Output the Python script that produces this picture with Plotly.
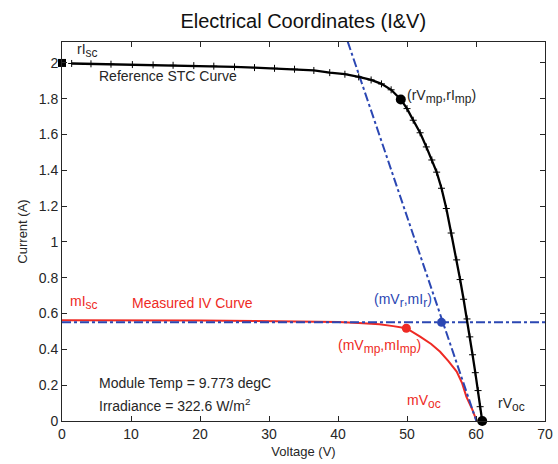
import plotly.graph_objects as go

# Reference (STC) I-V curve
ref_v = [1.4, 4.2, 7.1, 10.2, 13.2, 16.1, 19.1, 22.0, 25.0, 27.9, 30.8, 33.7, 36.5,
         38.8, 41.0, 43.0, 44.8, 46.3, 47.7, 49.1, 50.0, 50.9, 51.9, 52.8, 53.6, 54.3,
         55.0, 55.7, 56.4, 57.2, 57.7, 58.2, 58.7, 59.1, 59.5, 59.9, 60.3, 60.6, 60.9]
ref_i = [1.997, 1.995, 1.993, 1.991, 1.989, 1.987, 1.985, 1.982, 1.978, 1.974, 1.970, 1.965, 1.958,
         1.946, 1.937, 1.922, 1.905, 1.883, 1.850, 1.796, 1.745, 1.680, 1.610, 1.531, 1.458, 1.390,
         1.300, 1.187, 1.050, 0.900, 0.790, 0.680, 0.570, 0.470, 0.370, 0.270, 0.170, 0.080, 0.0]

# Measured I-V curve
meas_v = [0, 10, 20, 28, 35, 40, 43, 46, 48, 49.9, 51.9, 53.5, 54.8, 56.0, 57.2, 58.0, 58.6, 59.4, 60.1]
meas_i = [0.563, 0.563, 0.562, 0.558, 0.556, 0.553, 0.548, 0.540, 0.530, 0.518, 0.471, 0.430,
          0.387, 0.335, 0.276, 0.210, 0.136, 0.070, 0.0]

# Key points
r_isc = 2.0
r_vmp, r_imp = 49.1, 1.796
r_voc = 60.9
m_vmp, m_imp = 49.9, 0.518
m_vr, m_ir = 55.0, 0.551
m_voc = 60.05

# Translated reference line (through mVoc) and measured Ir level
slope_line_v = [41.4, m_voc]
slope_line_i = [2.12, 0.0]
ir_line_v = [0, 70]
ir_line_i = [m_ir, m_ir]

x_ticks = [0, 10, 20, 30, 40, 50, 60, 70]
y_ticks = [0, 0.2, 0.4, 0.6, 0.8, 1.0, 1.2, 1.4, 1.6, 1.8, 2.0]
y_tick_text = ["0", "0.2", "0.4", "0.6", "0.8", "1", "1.2", "1.4", "1.6", "1.8", "2"]

RED = "#ee2a24"
BLUE = "#2b47b3"
TXT = "#262626"
FONT = "Liberation Sans, Arial, sans-serif"

fig = go.Figure()

fig.add_trace(go.Scatter(x=meas_v, y=meas_i, mode="lines",
                         line=dict(color=RED, width=2), hoverinfo="skip"))
fig.add_trace(go.Scatter(x=ir_line_v, y=ir_line_i, mode="lines",
                         line=dict(color=BLUE, width=2, dash="dashdot"), hoverinfo="skip"))
fig.add_trace(go.Scatter(x=slope_line_v, y=slope_line_i, mode="lines",
                         line=dict(color=BLUE, width=2, dash="dashdot"), hoverinfo="skip"))
fig.add_trace(go.Scatter(x=ref_v, y=ref_i, mode="lines+markers",
                         line=dict(color="black", width=2.3),
                         marker=dict(symbol="cross-thin", size=5, color="black",
                                     line=dict(color="black", width=1)),
                         hoverinfo="skip"))

# Key point markers
fig.add_trace(go.Scatter(x=[0], y=[r_isc], mode="markers", cliponaxis=False,
                         marker=dict(symbol="square", size=8, color="black")))
fig.add_trace(go.Scatter(x=[r_vmp, r_voc], y=[r_imp, 0], mode="markers", cliponaxis=False,
                         marker=dict(symbol="circle", size=10, color="black")))
fig.add_trace(go.Scatter(x=[m_vmp], y=[m_imp], mode="markers",
                         marker=dict(symbol="circle", size=9, color=RED)))
fig.add_trace(go.Scatter(x=[m_vr], y=[m_ir], mode="markers",
                         marker=dict(symbol="circle", size=9, color=BLUE)))


def sub(s):
    return "<sub><span style='font-size:12px'>" + s + "</span></sub>"


def label(x, y, text, color=TXT, size=14):
    fig.add_annotation(x=x, y=y, xref="x", yref="y", text=text, showarrow=False,
                       xanchor="left", yanchor="middle",
                       font=dict(family=FONT, size=size, color=color))


label(1.95, 2.072, "rI" + sub("sc"))
label(5.0, 1.927, "Reference STC Curve")
label(49.7, 1.815, "(rV" + sub("mp") + ",rI" + sub("mp") + ")")
label(0.8, 0.662, "mI" + sub("sc"), RED)
label(9.9, 0.659, "Measured IV Curve", RED)
label(44.9, 0.672, "(mV" + sub("r") + ",mI" + sub("r") + ")", BLUE)
label(39.7, 0.415, "(mV" + sub("mp") + ",mI" + sub("mp") + ")", RED)
label(49.7, 0.108, "mV" + sub("oc"), RED)
label(62.9, 0.091, "rV" + sub("oc"))
label(5.0, 0.212, "Module Temp = 9.773 degC")
label(5.0, 0.089, "Irradiance = 322.6 W/m<sup>2</sup>")

axis_common = dict(showline=True, linecolor=TXT, linewidth=1, mirror="ticks",
                   ticks="inside", ticklen=5, tickcolor=TXT, showgrid=False,
                   zeroline=False, automargin=False,
                   tickfont=dict(family=FONT, size=14, color=TXT))

fig.update_xaxes(range=[0, 70], tickvals=x_ticks, title=dict(text="Voltage (V)", standoff=6,
                 font=dict(family=FONT, size=13, color=TXT)), **axis_common)
fig.update_yaxes(range=[0, 2.117], tickvals=y_ticks, ticktext=y_tick_text,
                 title=dict(text="Current (A)", standoff=8,
                            font=dict(family=FONT, size=13, color=TXT)), **axis_common)

fig.update_layout(
    width=558, height=464,
    margin=dict(l=62, r=13, t=42, b=43),
    paper_bgcolor="white", plot_bgcolor="white",
    showlegend=False,
    title=dict(text="Electrical Coordinates (I&V)", x=0.5435, xanchor="center",
               y=0.955, yanchor="middle",
               font=dict(family=FONT, size=20, color="#111111")),
)

fig.write_html("out.html")
